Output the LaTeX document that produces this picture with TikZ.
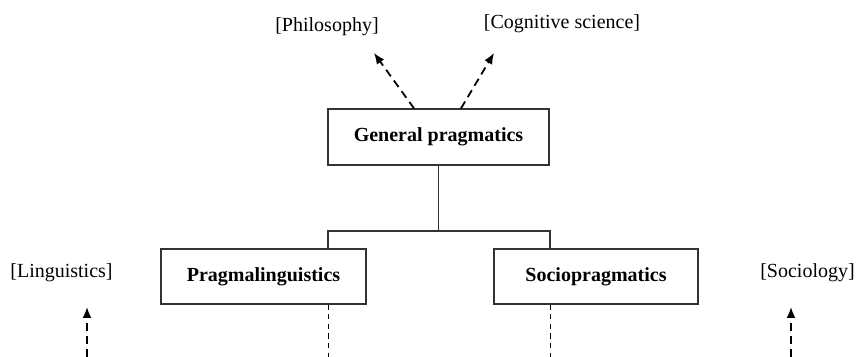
\documentclass[tikz,border=0pt]{standalone}
\usepackage{fontspec}
\setmainfont{Liberation Serif}
\usetikzlibrary{arrows.meta,positioning,calc}

\begin{document}
\begin{tikzpicture}[
    x=0.5pt, y=-0.5pt,
    field/.style={rectangle, draw=black!80, line width=0.6pt, minimum height=27.5pt, align=center, font=\bfseries},
    source/.style={inner sep=0pt, align=center},
    link/.style={draw=black!80, line width=0.6pt},
    arrow/.style={-{Latex[length=5.5pt,width=4.5pt]}, line width=0.9pt, dash pattern=on 4pt off 2.6pt},
    thin dash/.style={line width=0.5pt, dash pattern=on 2.6pt off 2.2pt}
]
\useasboundingbox (0,0) rectangle (857,357);

% Fields
\node[field, minimum width=110.5pt, minimum height=28pt] (gen) at (438.5,137) {General pragmatics};
\node[field, minimum width=102.5pt] (pragma) at (263.5,276.5) {Pragmalinguistics};
\node[field, minimum width=102pt] (socio) at (596,276.5) {Sociopragmatics};

% Neighbouring disciplines
\node[source] (phil) at (327,27) {[Philosophy]};
\node[source] (cog) at (562,24) {[Cognitive science]};
\node[source] (ling) at (61.5,272.5) {[Linguistics]};
\node[source] (soc) at (807.5,272.5) {[Sociology]};

% Free ends
\coordinate (philtip) at (374,53);
\coordinate (cogtip) at (494,53);
\coordinate (lingtip) at (87,307);
\coordinate (soctip) at (791,307);
\coordinate (jl) at (328,231);
\coordinate (jr) at (550,231);

% Tree
\draw[link] (gen.south) -- (gen.south |- jl);
\draw[link] (pragma.north -| jl) -- (jl) -- (jr) -- (socio.north -| jr);

% Arrows
\draw[arrow] ($(gen.north)+(-24.5,0)$) -- (philtip);
\draw[arrow] ($(gen.north)+(22.5,0)$) -- (cogtip);
\draw[arrow] (lingtip |- 0,357) -- (lingtip);
\draw[arrow] (soctip |- 0,357) -- (soctip);
\draw[thin dash] (pragma.south -| jl) -- (jl |- 0,357);
\draw[thin dash] (socio.south -| jr) -- (jr |- 0,357);

\end{tikzpicture}
\end{document}
